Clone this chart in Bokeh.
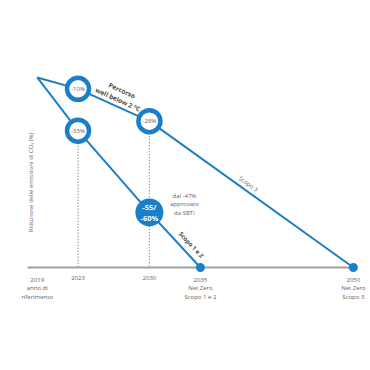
import numpy as np
from bokeh.plotting import figure
from bokeh.models import Range1d
from bokeh.core.properties import value
from bokeh.embed import file_html
from bokeh.resources import INLINE

# ---------------- data ----------------
years_s3 = [2019, 2023, 2030, 2050]
red_s3 = [0, -6, -23, -100]            # drawn position of "Scopo 3" path
labels_s3 = ["", "-10%", "-28%", ""]

years_s12 = [2019, 2023, 2030, 2035]
red_s12 = [0, -28, -71, -100]          # drawn position of "Scopo 1 e 2" path
labels_s12 = ["", "-33%", "-55/\n-60%", ""]

tick_years = [2019, 2023, 2030, 2035, 2050]
tick_labels = ["2019\nanno di\nriferimento", "2023", "2030",
               "2035\nNet Zero\nScopo 1 e 2", "2050\nNet Zero\nScopo 3"]

path_label = "Percorso\nwell below 2 °C"
s3_label = "Scopo 3"
s12_label = "Scopo 1 e 2"
sbti_note = "dal -47%\napprovato\nda SBTi"
y_title = "Riduzione delle emissioni di CO\u2082 (%)"

# ---------------- styles ----------------
BLUE = "#1a7fc8"
GREY_TXT = "#5f5f5f"
FONT = value("Open Sans")
W = H = 370
x0, x1 = 2015.40, 2051.68
y0, y1 = -154.2, 40.5
ppx = W / (x1 - x0)   # screen px per year
ppy = H / (y1 - y0)   # screen px per % unit


def off(x, y, dx_px, dy_px):
    """shift a data point by screen pixels (dy positive = down)"""
    return x + dx_px / ppx, y - dy_px / ppy


def along(xs, ys, i, t):
    return xs[i] + t * (xs[i + 1] - xs[i]), ys[i] + t * (ys[i + 1] - ys[i])


def seg_angle(xs, ys, i):
    return float(np.arctan2((ys[i + 1] - ys[i]) * ppy, (xs[i + 1] - xs[i]) * ppx))


p = figure(width=W, height=H, output_backend="svg", toolbar_location=None,
           x_range=Range1d(x0, x1), y_range=Range1d(y0, y1),
           x_axis_location=None, y_axis_location=None,
           min_border=0, min_border_left=0, min_border_right=0,
           min_border_top=0, min_border_bottom=0)
p.outline_line_color = None
p.grid.visible = False
p.background_fill_color = "white"
p.border_fill_color = "white"

# dotted guides from milestones down to baseline
p.segment(x0=[years_s12[1], years_s3[2]], y0=[red_s12[1], red_s3[2]],
          x1=[years_s12[1], years_s3[2]], y1=[red_s12[-1], red_s3[-1]],
          line_color="#7a7a7a", line_width=1.2, line_dash="1 2")

# baseline
p.segment(x0=[years_s3[0] - 0.95], y0=[red_s3[-1]], x1=[years_s3[-1] + 0.3],
          y1=[red_s3[-1]], line_color="#a0a0a0", line_width=2)

# paths
p.line(years_s3, red_s3, line_color=BLUE, line_width=2)
p.line(years_s12, red_s12, line_color=BLUE, line_width=2)

# end (net zero) dots
p.scatter([years_s12[-1], years_s3[-1]], [red_s12[-1], red_s3[-1]], size=9,
          fill_color=BLUE, line_color=None)

# rings
ring_x = [years_s3[1], years_s3[2], years_s12[1]]
ring_y = [red_s3[1], red_s3[2], red_s12[1]]
ring_t = [labels_s3[1], labels_s3[2], labels_s12[1]]
p.scatter(ring_x, ring_y, size=22, fill_color="white", line_color=BLUE,
          line_width=4.5)
p.text(ring_x, ring_y, text=ring_t, text_align="center", text_baseline="middle",
       text_font=FONT, text_font_size="6px", text_color=GREY_TXT)

# filled milestone
p.scatter([years_s12[2]], [red_s12[2]], size=28, fill_color=BLUE, line_color=None)
p.text([years_s12[2]], [red_s12[2]], text=[labels_s12[2]], text_align="center",
       text_baseline="middle", text_font=FONT, text_font_size="7.5px",
       text_font_style="bold", text_color="white", text_line_height=1.05)

# SBTi note
nx, ny = off(years_s12[2], red_s12[2], 35, -8)
p.text([nx], [ny], text=[sbti_note], text_align="center", text_baseline="middle",
       text_font=FONT, text_font_size="6px", text_color=GREY_TXT,
       text_line_height=1.1)

# path labels
mx, my = along(years_s3, red_s3, 1, 0.56)
mx, my = off(mx, my, 2, -12)
p.text([mx], [my], text=[path_label], angle=seg_angle(years_s3, red_s3, 1),
       text_align="center", text_baseline="middle", text_font=FONT,
       text_font_size="6.5px", text_font_style="bold", text_color="#4a4a4a",
       text_line_height=1.1)

sx, sy = along(years_s3, red_s3, 2, 0.47)
sx, sy = off(sx, sy, 3, -6)
p.text([sx], [sy], text=[s3_label], angle=seg_angle(years_s3, red_s3, 2),
       text_align="center", text_baseline="middle", text_font=FONT,
       text_font_size="6px", text_color=GREY_TXT)

cx, cy = along(years_s12, red_s12, 2, 0.68)
cx, cy = off(cx, cy, 7, -5)
p.text([cx], [cy], text=[s12_label], angle=seg_angle(years_s12, red_s12, 2),
       text_align="center", text_baseline="middle", text_font=FONT,
       text_font_size="6px", text_font_style="bold", text_color="#4a4a4a")

# year tick labels
ty = [off(t, red_s3[-1], 0, 8)[1] for t in tick_years]
p.text(tick_years, ty, text=tick_labels, text_align="center", text_baseline="top",
       text_font=FONT, text_font_size="6px", text_color=GREY_TXT,
       text_line_height=1.1)

# y title
yx, yy = off(years_s3[0], red_s3[0], -6.7, 105)
p.text([yx], [yy], text=[y_title], angle=float(np.pi / 2), text_align="center",
       text_baseline="middle", text_font=FONT, text_font_size="6px",
       text_color="#6a6a6a")

open("out.html", "w").write(file_html(p, INLINE))
